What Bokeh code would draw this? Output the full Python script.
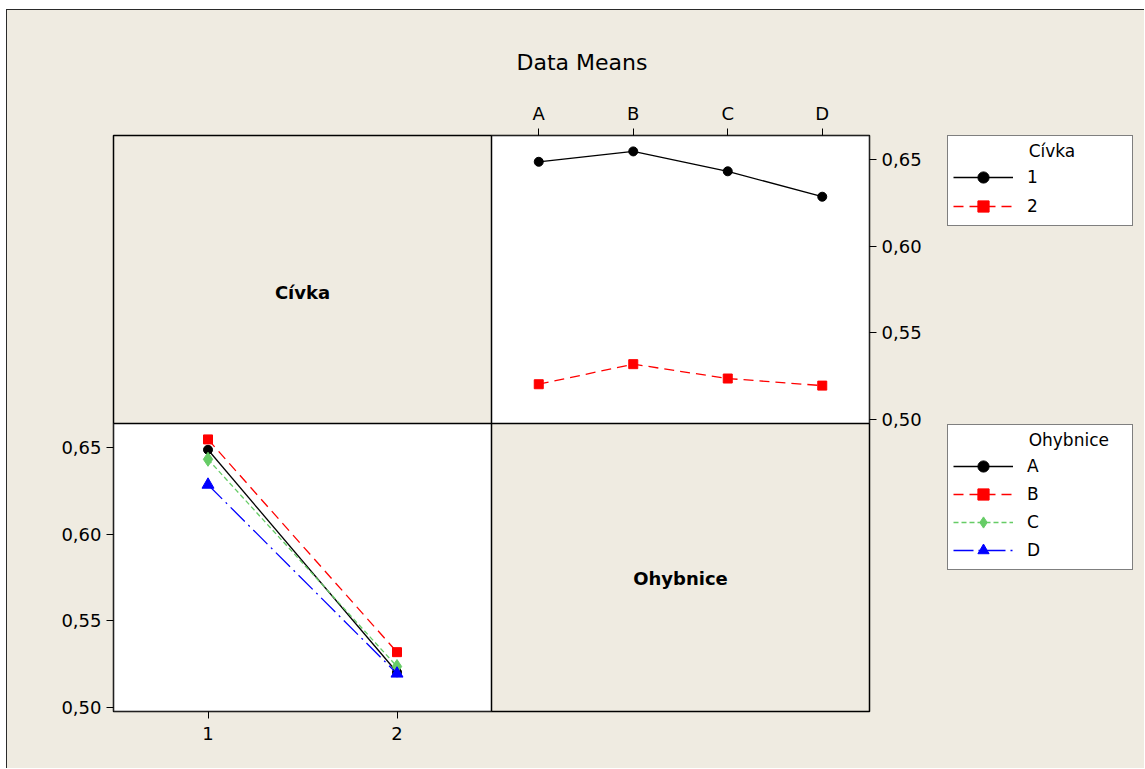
from bokeh.plotting import figure
from bokeh.models import (Range1d, LinearAxis, FixedTicker, BoxAnnotation, Label,
                          Legend, LegendItem, Spacer)
from bokeh.layouts import column, row
from bokeh.embed import file_html
from bokeh.resources import INLINE

# ---- data: mean response for each Cívka x Ohybnice combination ----
ohybnice = ["A", "B", "C", "D"]
civka = ["1", "2"]
civka1_means = [0.6488, 0.6548, 0.6433, 0.6286]
civka2_means = [0.5202, 0.5318, 0.5235, 0.5194]
y_ticks = [0.50, 0.55, 0.60, 0.65]
y_tick_labels = ["0,50", "0,55", "0,60", "0,65"]

# ---- styling ----
BG = "#EFEBE1"
FONT = "DejaVu Sans"
EDGE = "1px solid #2a2a2a"
ohyb_styles = [  # colour, dash, marker, size
    ("black", "solid", "circle", 9),
    ("red", "10 6", "square", 9),
    ("#66CC66", "5 3", "diamond", 14),
    ("blue", "20 5 2 5", "triangle", 12),
]
civka_styles = [ohyb_styles[0], ohyb_styles[1]]

# ---- matrix geometry: 2x2 cells inside one frame ----
Y_LO, Y_HI = 0.4975, 0.6640
Y_SPAN = Y_HI - Y_LO
N_OHYB = len(ohybnice)
N_CIV = len(civka)

# main ranges -> bottom-left cell (x = Cívka), extended over the right column / top row
x_main = Range1d(0.5, 0.5 + 2 * N_CIV)
y_main = Range1d(Y_LO, Y_HI + Y_SPAN)
# extra ranges -> top-right cell (x = Ohybnice), extended over the left column / bottom row
x_top = Range1d(0.5 - N_OHYB, N_OHYB + 0.5)
y_top = Range1d(Y_LO - Y_SPAN, Y_HI)

p = figure(width=933, height=759, x_range=x_main, y_range=y_main,
           x_axis_type=None, y_axis_type=None, toolbar_location=None,
           output_backend="svg",
           min_border_left=106, min_border_right=71,
           min_border_top=125, min_border_bottom=58)
p.extra_x_ranges = {"top_x": x_top}
p.extra_y_ranges = {"top_y": y_top}
p.xgrid.visible = False
p.ygrid.visible = False
p.background_fill_color = BG
p.border_fill_color = BG
p.outline_line_color = "black"
p.outline_line_width = 1.5
p.styles = {"border-left": EDGE, "border-top": EDGE}

# chart title
p.title.text = "Data Means"
p.title.text_font = FONT
p.title.text_font_size = "22px"
p.title.text_font_style = "normal"
p.title.text_color = "black"
p.title.align = "left"
p.title.offset = 403
p.title.standoff = 50

# white plotting cells
p.add_layout(BoxAnnotation(left=0.5, right=0.5 + N_CIV, bottom=Y_LO, top=Y_HI,
                           fill_color="white", fill_alpha=1, line_color="black",
                           line_alpha=1, line_width=1.5, level="underlay"))
p.add_layout(BoxAnnotation(left=0.5, right=N_OHYB + 0.5, bottom=Y_LO, top=Y_HI,
                           x_range_name="top_x", y_range_name="top_y",
                           fill_color="white", fill_alpha=1, line_color="black",
                           line_alpha=1, line_width=1.5, level="underlay"))


def style_axis(ax, standoff=5):
    ax.axis_line_color = None
    ax.major_tick_in = 0
    ax.major_tick_out = 7
    ax.major_tick_line_color = "black"
    ax.minor_tick_line_color = None
    ax.major_label_text_font = FONT
    ax.major_label_text_font_size = "18px"
    ax.major_label_text_color = "black"
    ax.major_label_standoff = standoff


ax_bottom = LinearAxis(ticker=FixedTicker(ticks=list(range(1, N_CIV + 1))),
                       major_label_overrides={i + 1: c for i, c in enumerate(civka)})
ax_left = LinearAxis(ticker=FixedTicker(ticks=y_ticks),
                     major_label_overrides=dict(zip(y_ticks, y_tick_labels)))
ax_top = LinearAxis(x_range_name="top_x",
                    ticker=FixedTicker(ticks=list(range(1, N_OHYB + 1))),
                    major_label_overrides={i + 1: o for i, o in enumerate(ohybnice)})
ax_right = LinearAxis(y_range_name="top_y", ticker=FixedTicker(ticks=y_ticks),
                      major_label_overrides=dict(zip(y_ticks, y_tick_labels)))
style_axis(ax_bottom, 8)
style_axis(ax_left)
style_axis(ax_top)
style_axis(ax_right)
p.add_layout(ax_bottom, "below")
p.add_layout(ax_left, "left")
p.add_layout(ax_top, "above")
p.add_layout(ax_right, "right")

# ---- top-right cell: one line per Cívka level across Ohybnice ----
ohyb_x = list(range(1, N_OHYB + 1))
for means, (col, dash, mk, sz) in zip([civka1_means, civka2_means], civka_styles):
    p.line(ohyb_x, means, x_range_name="top_x", y_range_name="top_y",
           line_color=col, line_dash=dash, line_width=1.3)
    p.scatter(ohyb_x, means, x_range_name="top_x", y_range_name="top_y",
              marker=mk, size=sz, fill_color=col, line_color=col)

# ---- bottom-left cell: one line per Ohybnice level across Cívka ----
civ_x = list(range(1, N_CIV + 1))
for i, (col, dash, mk, sz) in enumerate(ohyb_styles):
    ys = [civka1_means[i], civka2_means[i]]
    p.line(civ_x, ys, line_color=col, line_dash=dash, line_width=1.3)
    p.scatter(civ_x, ys, marker=mk, size=sz, fill_color=col, line_color=col)

# ---- factor names in the diagonal cells ----
Y_MID = (Y_LO + Y_HI) / 2
p.add_layout(Label(x=(0.5 + N_CIV + 0.5) / 2, y=Y_MID, y_range_name="top_y",
                   text="Cívka", text_font=FONT, text_font_size="18px",
                   text_font_style="bold", text_color="black", text_align="center",
                   text_baseline="middle", y_offset=-13))
p.add_layout(Label(x=(0.5 + N_OHYB + 0.5) / 2, y=Y_MID, x_range_name="top_x",
                   text="Ohybnice", text_font=FONT, text_font_size="18px",
                   text_font_style="bold", text_color="black", text_align="center",
                   text_baseline="middle", y_offset=-11))

# ---- legend column to the right of the matrix (frame is aligned with the matrix) ----
leg = figure(width=205, height=759, x_range=Range1d(0, 1), y_range=Range1d(0, 1),
             x_axis_type=None, y_axis_type=None, toolbar_location=None,
             output_backend="svg", min_border=0)
leg.xgrid.visible = False
leg.ygrid.visible = False
leg.background_fill_color = BG
leg.border_fill_color = BG
leg.outline_line_color = None
leg.styles = {"border-top": EDGE}

NAN = float("nan")


def legend_items(labels, styles):
    # style-only renderers (a single undefined point) that supply the legend swatches
    items = []
    for lab, (col, dash, mk, sz) in zip(labels, styles):
        ln = leg.line(x=[NAN], y=[NAN], line_color=col, line_dash=dash, line_width=1.3)
        sc = leg.scatter(x=[NAN], y=[NAN], marker=mk, size=sz,
                         fill_color=col, line_color=col)
        items.append(LegendItem(label=lab, renderers=[ln, sc]))
    return items


INDENT = "\u00a0" * 14


def make_legend(title, items, loc, spacing):
    lg = Legend(items=items, location=loc, title=INDENT + title,
                glyph_width=60, glyph_height=28, label_height=28,
                label_standoff=14, label_width=100, padding=5, spacing=spacing,
                margin=0, title_standoff=2,
                border_line_color="black", border_line_width=1.5,
                background_fill_color="white", background_fill_alpha=1)
    lg.label_text_font = FONT
    lg.label_text_font_size = "17px"
    lg.label_text_color = "black"
    lg.title_text_font = FONT
    lg.title_text_font_size = "17px"
    lg.title_text_font_style = "normal"
    lg.title_text_color = "black"
    leg.add_layout(lg)
    return lg


make_legend("Cívka", legend_items(civka, civka_styles), (8, 485), 1)
make_legend("Ohybnice", legend_items(ohybnice, ohyb_styles), (8, 141), 0)

layout = column(Spacer(height=9),
                row(Spacer(width=6), row(p, leg, styles={"background-color": BG})))
open("out.html", "w").write(file_html(layout, INLINE))
